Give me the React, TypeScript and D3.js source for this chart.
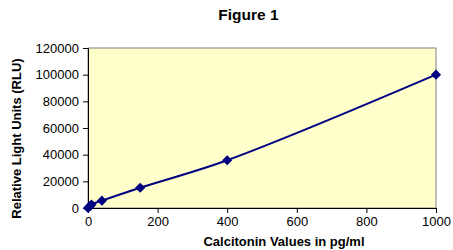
import { useEffect, useRef } from 'react'
import * as d3 from 'd3'

// Calibration curve values
const CONC = [0, 5, 10, 40, 150, 400, 1000]
const RLU = [0, 1200, 2600, 5500, 15200, 35800, 100000]
const X_TICKS = [0, 200, 400, 600, 800, 1000]
const Y_TICKS = [0, 20000, 40000, 60000, 80000, 100000, 120000]

const FONT = 'Arial, "Liberation Sans", sans-serif'

export default function App() {
  const svgRef = useRef<SVGSVGElement | null>(null)

  useEffect(() => {
    if (!svgRef.current) return
    const width = 453
    const height = 250
    const margin = { top: 48, right: 17, bottom: 42, left: 88 }
    const innerW = width - margin.left - margin.right
    const innerH = height - margin.top - margin.bottom

    const svg = d3.select(svgRef.current)
    svg.selectAll('*').remove()
    svg.attr('width', width).attr('height', height)

    const x = d3.scaleLinear().domain([0, 1000]).range([0, innerW])
    const y = d3.scaleLinear().domain([0, 120000]).range([innerH, 0])

    const g = svg.append('g').attr('transform', `translate(${margin.left},${margin.top})`)

    // plot area
    g.append('rect')
      .attr('width', innerW).attr('height', innerH)
      .attr('fill', '#FFFFCC').attr('stroke', '#808080').attr('stroke-width', 1)

    // axes
    const xAxis = g.append('g')
      .attr('transform', `translate(0,${innerH})`)
      .call(d3.axisBottom(x).tickValues(X_TICKS).tickSize(5).tickPadding(4).tickFormat(d3.format('d')))
    const yAxis = g.append('g')
      .call(d3.axisLeft(y).tickValues(Y_TICKS).tickSize(5).tickPadding(4).tickFormat(d3.format('d')))

    ;[xAxis, yAxis].forEach((ax) => {
      ax.select('.domain').attr('stroke', '#000')
      ax.selectAll('line').attr('stroke', '#000')
      ax.selectAll('text').attr('fill', '#000').style('font-size', '13px').style('font-family', FONT)
    })

    // line
    const pts = CONC.map((c, i) => [c, RLU[i]] as [number, number])
    const line = d3.line<[number, number]>()
      .x((d) => x(d[0])).y((d) => y(d[1]))
      .curve(d3.curveCatmullRom.alpha(0.5))
    g.append('path')
      .datum(pts)
      .attr('d', line)
      .attr('fill', 'none').attr('stroke', '#000080').attr('stroke-width', 2)

    // diamond markers (square turned 45deg, like Excel's)
    const marker = d3.symbol().type(d3.symbolSquare).size(52)
    g.selectAll('.mk').data(pts).enter().append('path')
      .attr('transform', (d) => `translate(${x(d[0])},${y(d[1])}) rotate(45)`)
      .attr('d', marker)
      .attr('fill', '#000080')

    // titles
    svg.append('text')
      .attr('x', 248.5).attr('y', 20)
      .attr('text-anchor', 'middle')
      .style('font-family', FONT).style('font-size', '15.5px').style('font-weight', 'bold')
      .text('Figure 1')

    svg.append('text')
      .attr('x', 284).attr('y', 246)
      .attr('text-anchor', 'middle')
      .style('font-family', FONT).style('font-size', '13px').style('font-weight', 'bold')
      .text('Calcitonin Values in pg/ml')

    svg.append('text')
      .attr('transform', 'translate(21,138.5) rotate(-90)')
      .attr('text-anchor', 'middle')
      .style('font-family', FONT).style('font-size', '13px').style('font-weight', 'bold')
      .text('Relative Light Units (RLU)')
  }, [])

  return (
    <svg ref={svgRef} style={{ position: 'absolute', left: 0, top: 0, background: '#fff' }} />
  )
}
